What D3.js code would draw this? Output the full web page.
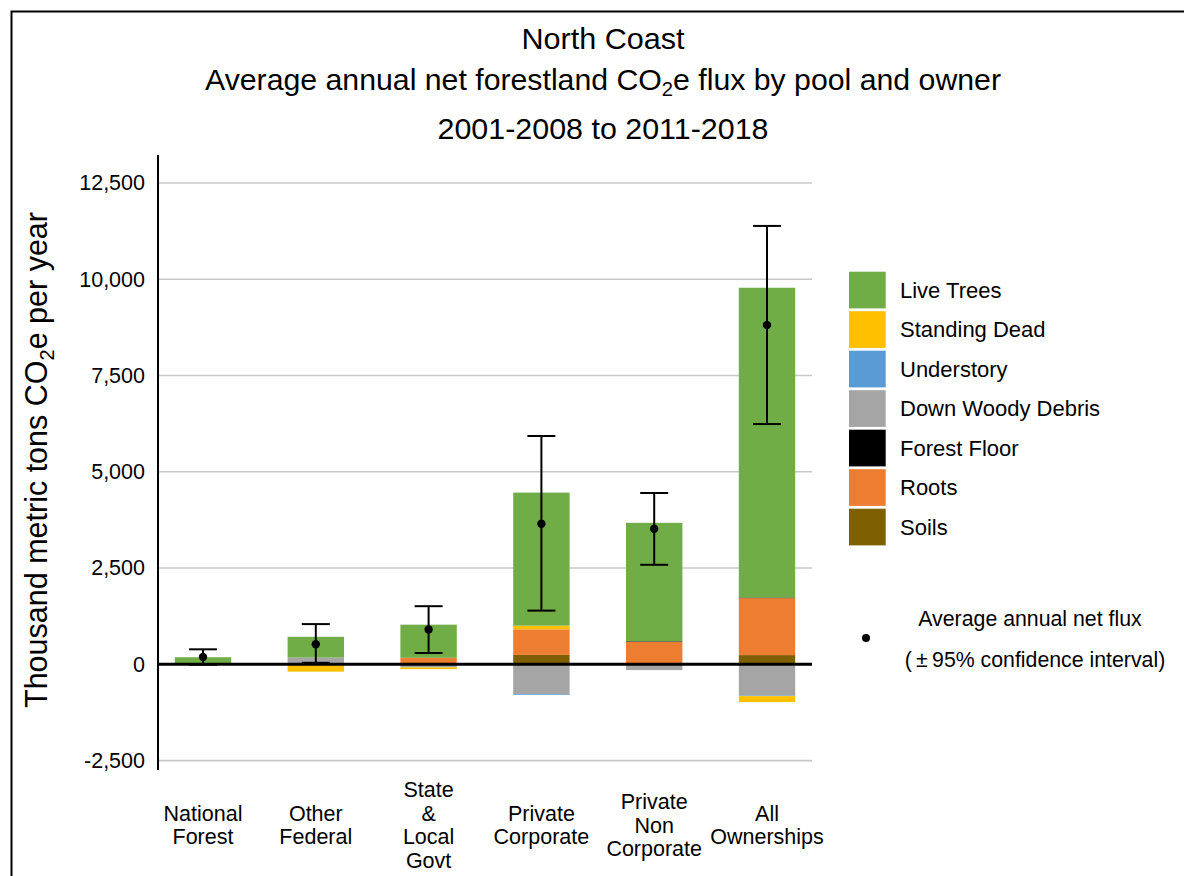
<!DOCTYPE html>
<html><head><meta charset="utf-8">
<script src="https://cdn.jsdelivr.net/npm/d3@7"></script>
<style>
html,body{margin:0;padding:0;background:#fff;}
text{font-family:"Liberation Sans",Arial,sans-serif;fill:#000;}
</style></head>
<body><svg id="c" width="1184" height="876"></svg>
<script>
const categories = ["National Forest","Other Federal","State & Local Govt","Private Corporate","Private Non Corporate","All Ownerships"];
const categoryLines = [["National","Forest"],["Other","Federal"],["State","&","Local","Govt"],["Private","Corporate"],["Private","Non","Corporate"],["All","Ownerships"]];
const pools = ["Live Trees","Standing Dead","Understory","Down Woody Debris","Forest Floor","Roots","Soils"];
const poolColors = ["#70AD47","#FFC000","#5B9BD5","#A5A5A5","#000000","#ED7D31","#7F6000"];
const liveTrees      = [150, 540, 860, 3455, 3075, 8045];
const standingDead   = [-15, -190, -45, 95, 0, -155];
const understory     = [0, 0, 0, -20, 0, -15];
const downWoodyDebris= [0, 155, -80, -775, -150, -810];
const forestFloor    = [0, 0, 0, 0, 15, 15];
const roots          = [35, 20, 170, 665, 585, 1480];
const soils          = [0, 0, 0, 245, 0, 240];
const meanFlux = [190, 520, 905, 3650, 3520, 8810];
const ciLow    = [-10, 40, 295, 1395, 2585, 6240];
const ciHigh   = [390, 1045, 1510, 5930, 4450, 11385];
const yTicks = [-2500, 0, 2500, 5000, 7500, 10000, 12500];

const poolValues = {"Live Trees":liveTrees,"Standing Dead":standingDead,"Understory":understory,
  "Down Woody Debris":downWoodyDebris,"Forest Floor":forestFloor,"Roots":roots,"Soils":soils};
const table = categories.map((c,i)=>{const o={cat:c}; pools.forEach(p=>o[p]=poolValues[p][i]); return o;});
const stackKeys = pools.slice().reverse();
const color = d3.scaleOrdinal().domain(pools).range(poolColors);

const svg = d3.select("#c");
// border
svg.append("path").attr("d","M11.5,880 L11.5,11.5 L1190,11.5").attr("fill","none").attr("stroke","#000").attr("stroke-width",2);

const x = d3.scaleBand().domain(categories).range([146.6, 823.4]).paddingInner(0.5).paddingOuter(0.25);
const y = d3.scaleLinear().domain([-2500, 12500]).range([760.6, 183]);
const gx0 = 158, gx1 = 812;

// gridlines
svg.append("g").selectAll("line").data(yTicks.filter(t=>t!==0)).join("line")
  .attr("x1",gx0).attr("x2",gx1).attr("y1",d=>y(d)).attr("y2",d=>y(d))
  .attr("stroke","#c8c8c8").attr("stroke-width",1.6);

// y axis ticks labels
const fmt = d3.format(",");
const yAxis = d3.axisLeft(y).tickValues(yTicks).tickFormat(d=>fmt(d).replace("\u2212","-")).tickSize(0).tickPadding(13);
const ga = svg.append("g").attr("transform",`translate(${gx0},0)`).call(yAxis);
ga.select(".domain").remove();
ga.selectAll("text").attr("font-size",21.5).attr("font-family","Liberation Sans, Arial, sans-serif").attr("fill","#000");
svg.append("line").attr("x1",gx0).attr("x2",gx0).attr("y1",155).attr("y2",770).attr("stroke","#000").attr("stroke-width",2);

// stacked bars
const series = d3.stack().keys(stackKeys).offset(d3.stackOffsetDiverging)(table);
svg.append("g").selectAll("g").data(series).join("g").attr("fill",d=>color(d.key))
  .selectAll("rect").data(d=>d).join("rect")
  .attr("x",d=>x(d.data.cat)).attr("width",x.bandwidth())
  .attr("y",d=>y(Math.max(d[0],d[1]))).attr("height",d=>Math.abs(y(d[0])-y(d[1])));

// zero line
svg.append("line").attr("x1",gx0).attr("x2",gx1).attr("y1",y(0)).attr("y2",y(0)).attr("stroke","#000").attr("stroke-width",3);

// error bars
const eb = svg.append("g").selectAll("g").data(categories).join("g");
eb.append("line").attr("x1",d=>x(d)+x.bandwidth()/2).attr("x2",d=>x(d)+x.bandwidth()/2)
  .attr("y1",(d,i)=>y(ciLow[i])).attr("y2",(d,i)=>y(ciHigh[i])).attr("stroke","#000").attr("stroke-width",2);
[ciLow, ciHigh].forEach(arr=>{
  eb.append("line").attr("x1",d=>x(d)+x.bandwidth()/2-14).attr("x2",d=>x(d)+x.bandwidth()/2+14)
    .attr("y1",(d,i)=>y(arr[i])).attr("y2",(d,i)=>y(arr[i])).attr("stroke","#000").attr("stroke-width",2);
});
eb.append("circle").attr("cx",d=>x(d)+x.bandwidth()/2).attr("cy",(d,i)=>y(meanFlux[i])).attr("r",4.2).attr("fill","#000");

// x labels
const lh = 23.5;
const xl = svg.append("g").selectAll("text").data(categories).join("text")
  .attr("text-anchor","middle").attr("font-size",21.5)
  .attr("x",d=>x(d)+x.bandwidth()/2);
xl.each(function(d,i){
  const lines = categoryLines[i];
  const t = d3.select(this);
  const y0 = 825 - (lines.length-1)*lh/2;
  lines.forEach((l,k)=>t.append("tspan").attr("x",x(d)+x.bandwidth()/2).attr("y",y0+k*lh).attr("dy","0.35em").text(l));
});

// titles
const tg = svg.append("g").attr("text-anchor","middle");
tg.append("text").attr("x",603).attr("y",49).attr("font-size",30).attr("textLength",163).attr("lengthAdjust","spacingAndGlyphs").text("North Coast");
const t2 = tg.append("text").attr("x",603).attr("y",90).attr("font-size",30).attr("textLength",796).attr("lengthAdjust","spacingAndGlyphs");
t2.append("tspan").text("Average annual net forestland CO");
t2.append("tspan").attr("font-size",20).attr("dy",6).text("2");
t2.append("tspan").attr("dy",-6).text("e flux by pool and owner");
tg.append("text").attr("x",603).attr("y",139).attr("font-size",30).attr("textLength",331).attr("lengthAdjust","spacingAndGlyphs").text("2001-2008 to 2011-2018");

// y title
const yt = svg.append("text").attr("text-anchor","middle").attr("font-size",30.5)
  .attr("transform","translate(47,460) rotate(-90)");
yt.append("tspan").text("Thousand metric tons CO");
yt.append("tspan").attr("font-size",20).attr("dy",7).text("2");
yt.append("tspan").attr("dy",-7).text("e per year");

// legend
const lg = svg.append("g").selectAll("g").data(pools).join("g")
  .attr("transform",(d,i)=>`translate(849,${271.7+i*39.5})`);
lg.append("rect").attr("width",36.7).attr("height",36.7).attr("fill",d=>color(d));
lg.append("text").attr("x",51).attr("y",18.5).attr("dy","0.35em").attr("font-size",22).text(d=>d);

svg.append("circle").attr("cx",866).attr("cy",638).attr("r",4).attr("fill","#000");
svg.append("text").attr("x",1030).attr("y",619).attr("dy","0.35em").attr("text-anchor","middle").attr("font-size",21.3).text("Average annual net flux");
svg.append("text").attr("x",1035).attr("y",660).attr("dy","0.35em").attr("text-anchor","middle").attr("font-size",21.3).text("(\u2009\u00B1\u200995% confidence interval)");
</script></body></html>
